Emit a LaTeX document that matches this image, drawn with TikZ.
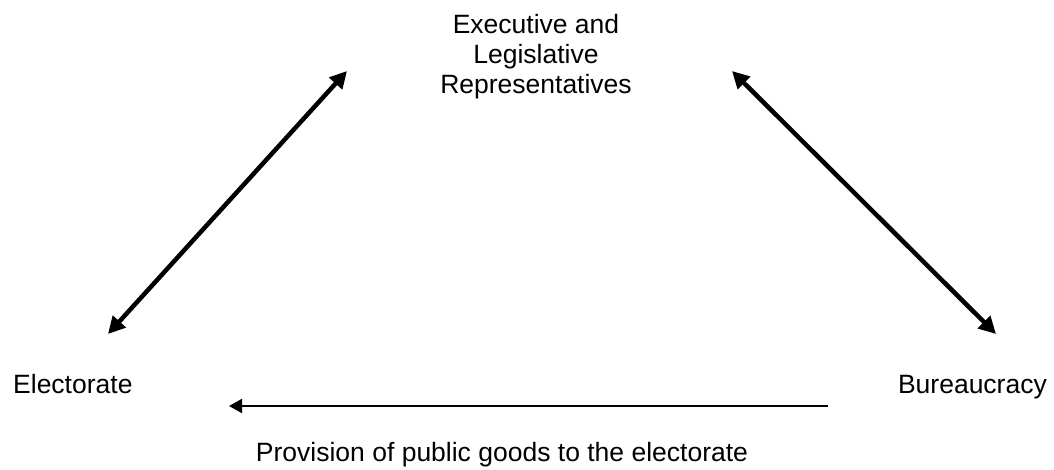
\documentclass[tikz,border=0pt]{standalone}
\usepackage{fontspec}
\setmainfont{Liberation Sans}
\usetikzlibrary{arrows.meta}
\begin{document}
\begin{tikzpicture}[x=1pt,y=-1pt,
  label/.style={inner sep=0pt,font=\fontsize{26.5}{30}\selectfont},
  duallink/.style={line width=4.5pt,{Triangle[length=17pt,width=17pt]}-{Triangle[length=17pt,width=17pt]}},
  flow/.style={line width=2pt,-{Triangle[length=13pt,width=14pt]}}]
  \useasboundingbox (0,0) rectangle (1054,470);
  % actors
  \node[label,align=center,anchor=north] (rep) at (536,14)
    {Executive and\\Legislative\\Representatives};
  \node[label,anchor=base west] (elect) at (13,393) {Electorate};
  \node[label,anchor=base east] (bur) at (1047,393) {Bureaucracy};
  \node[label,anchor=base] (prov) at (502,461) {Provision of public goods to the electorate};
  % arrow end points
  \coordinate (repL) at (347,71);
  \coordinate (repR) at (732,71);
  \coordinate (electT) at (108,334);
  \coordinate (burT) at (996,334);
  \coordinate (burB) at (828,406);
  \coordinate (electB) at (229,406);
  % relations
  \draw[duallink] (electT) -- (repL);
  \draw[duallink] (repR) -- (burT);
  \draw[flow] (burB) -- (electB);
\end{tikzpicture}
\end{document}
